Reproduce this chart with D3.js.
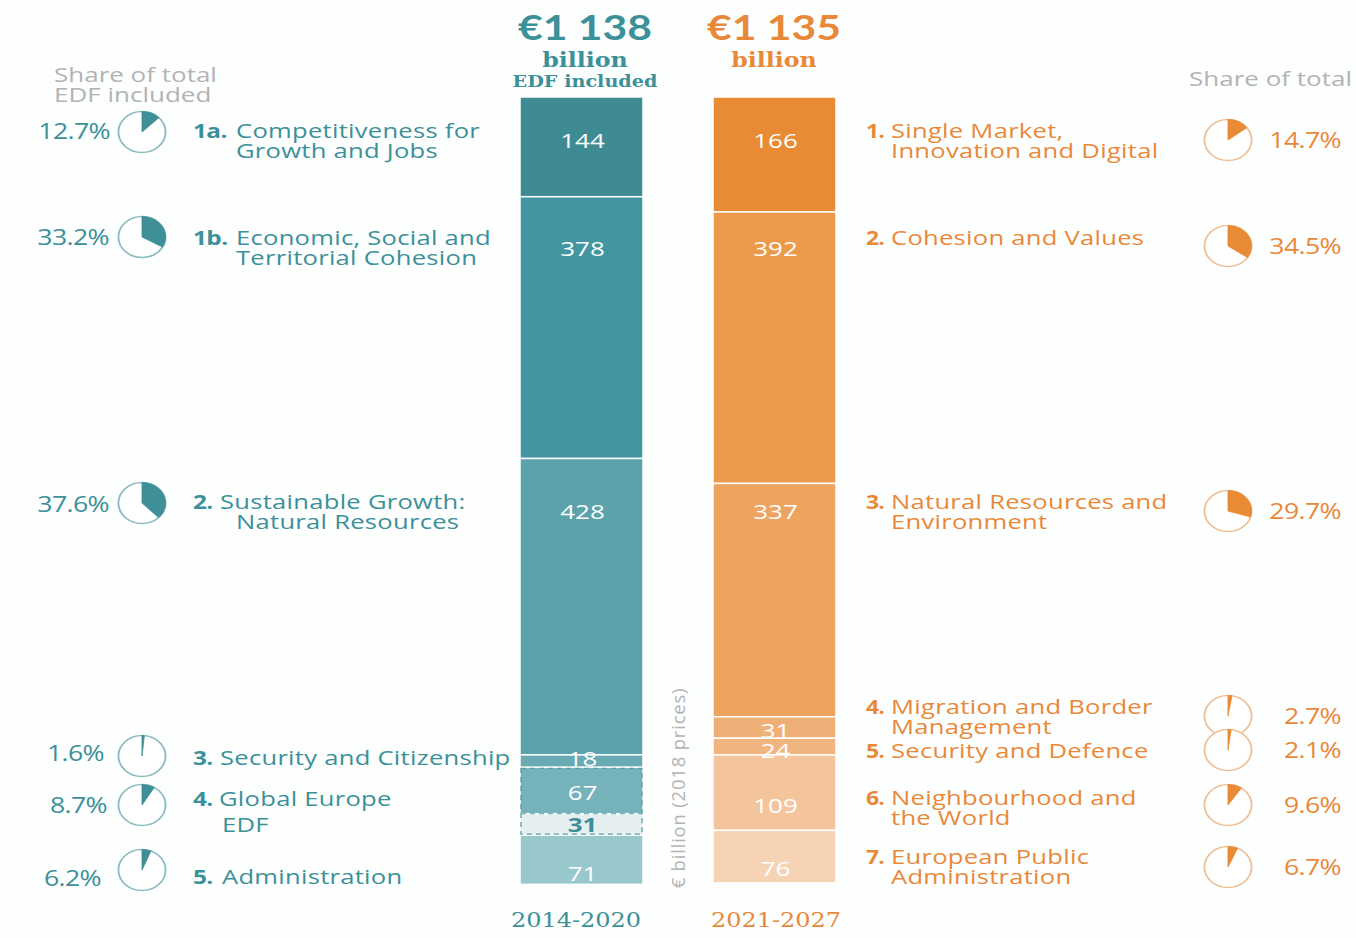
<!DOCTYPE html>
<html><head><meta charset="utf-8">
<script src="https://cdn.jsdelivr.net/npm/d3@7"></script>
<style>
html,body{margin:0;padding:0;background:#fdfefe;}
text{font-family:"Open Sans",sans-serif;}
</style></head>
<body><svg id="c" width="1356" height="938"></svg>
<script>
// ---------- DATA ----------
const leftPeriod = "2014-2020";
const rightPeriod = "2021-2027";
const leftTotal = "€1 138";
const rightTotal = "€1 135";
const leftValues = [144, 378, 428, 18, 67, 31, 71];
const rightValues = [166, 392, 337, 31, 24, 109, 76];
const leftNums = ["1a.", "1b.", "2.", "3.", "4.", "5."];
const leftCats = [["Competitiveness for", "Growth and Jobs"], ["Economic, Social and", "Territorial Cohesion"], ["Sustainable Growth:", "Natural Resources"], ["Security and Citizenship"], ["Global Europe", "EDF"], ["Administration"]];
const leftShares = [12.7, 33.2, 37.6, 1.6, 8.7, 6.2];
const rightNums = ["1.", "2.", "3.", "4.", "5.", "6.", "7."];
const rightCats = [["Single Market,", "Innovation and Digital"], ["Cohesion and Values"], ["Natural Resources and", "Environment"], ["Migration and Border", "Management"], ["Security and Defence"], ["Neighbourhood and", "the World"], ["European Public", "Administration"]];
const rightShares = [14.7, 34.5, 29.7, 2.7, 2.1, 9.6, 6.7];
const axisLabel = "€ billion (2018 prices)";

// ---------- LAYOUT ----------
const leftColors = ["#3e8b94", "#42969f", "#5ba2ab", "#6aaab3", "#76b2ba", "#e6eff0", "#98c7cc"];
const rightColors = ["#e98a35", "#eb9a4b", "#eda460", "#efb077", "#f0b57f", "#f4c49d", "#f6d3b5"];
const teal = "#3c9099", orange = "#e8893a", grey = "#b3b3b3";
const leftValY = [140, 248, 511, 758, 792, 824, 873];
const rightValY = [140, 248, 511, 730, 750, 805, 868];
const leftLabY = [130, 237, 501, 757, 798, 876];
const leftFirstX = [236, 236, 220, 220, 219, 222];
const leftNextX = [236, 236, 236, 236, 222, 236];
const leftNextGap = [20, 20, 20, 20, 26, 20];
const leftPieY = [132, 237, 503, 756, 805, 870];
const leftPctY = [131, 237, 504, 753, 805, 878];
const leftPctX = [110, 109, 109, 104, 107, 101];
const rightLabY = [130, 237, 501, 706, 750, 797, 856];
const rightPieY = [140, 246, 511, 716, 750, 805, 867];
const SX = 1.28; // horizontal stretch of the original artwork's type

const svg = d3.select("#c");
const top0 = 97, pxPerUnit = 0.6925;
const y = d3.scaleLinear().domain([0, 1138]).range([top0, top0 + 1138 * pxPerUnit]);
const bw = 123, lx = 520, rx = 713;

function txt(x, yy, s, o = {}) {
  const t = svg.append("text")
    .attr("transform", `translate(${x},${yy}) scale(${o.sx || SX},1)`)
    .attr("text-anchor", o.anchor || "start")
    .attr("dominant-baseline", o.baseline || "central")
    .attr("font-size", o.size || 20)
    .attr("font-weight", o.weight || 400)
    .attr("fill", o.fill || "#000")
    .text(s);
  if (o.family) t.style("font-family", o.family);
  if (o.ls !== undefined) t.attr("letter-spacing", o.ls);
  return t;
}

function stack(vals) { let c = 0; return vals.map(v => { const s = c; c += v; return [s, c]; }); }

function drawBar(vals, x0, colors, valY, darkIdx) {
  const st = stack(vals);
  svg.append("g").selectAll("rect").data(st).join("rect")
    .attr("x", x0).attr("width", bw)
    .attr("y", d => y(d[0])).attr("height", d => y(d[1]) - y(d[0]))
    .attr("fill", (d, i) => colors[i]).attr("stroke", "#ffffff").attr("stroke-width", 1.5);
  vals.forEach((v, i) => txt(x0 + bw / 2 + 1, valY[i], v, {
    anchor: "middle", size: 20, sx: 1.3,
    weight: i === darkIdx ? 700 : 400, fill: i === darkIdx ? teal : "#ffffff"
  }));
  return st;
}
const lst = drawBar(leftValues, lx, leftColors, leftValY, 5);
drawBar(rightValues, rx, rightColors, rightValY, -1);

// dashed box around Global Europe + EDF
svg.append("rect").attr("x", lx + 1).attr("width", bw - 2)
  .attr("y", y(lst[4][0]) + 1).attr("height", y(lst[5][1]) - y(lst[4][0]) - 2)
  .attr("fill", "none").attr("stroke", "#5a9ea6").attr("stroke-width", 1.3).attr("stroke-dasharray", "5,4");
svg.append("line").attr("x1", lx + 1).attr("x2", lx + bw - 1)
  .attr("y1", y(lst[5][0])).attr("y2", y(lst[5][0]))
  .attr("stroke", "#5a9ea6").attr("stroke-width", 1.2).attr("stroke-dasharray", "5,4");

// headers
const serif = "'DejaVu Serif', serif";
function header(cx, total, color, lines) {
  txt(cx, 40, total, { anchor: "middle", baseline: "auto", size: 35, weight: 700, sx: 1.22, fill: color, family: "Lato, sans-serif" });
  lines.forEach((t, i) => txt(cx, i === 0 ? 67 : 87, t, {
    anchor: "middle", baseline: "auto", size: i === 0 ? 21 : 17, weight: 700, sx: 1.13, fill: color, family: serif
  }));
}
header(585, leftTotal, teal, ["billion", "EDF included"]);
header(774, rightTotal, orange, ["billion"]);

// period labels
txt(576, 927, leftPeriod, { anchor: "middle", baseline: "auto", size: 20, sx: 1.2, fill: teal, family: serif });
txt(776, 927, rightPeriod, { anchor: "middle", baseline: "auto", size: 20, sx: 1.2, fill: orange, family: serif });

// axis label
svg.append("text").attr("transform", "translate(685,788) rotate(-90)").attr("text-anchor", "middle")
  .attr("font-size", 18.5).attr("letter-spacing", 0.8).attr("fill", grey).text(axisLabel);

// share headers
txt(54, 82, "Share of total", { baseline: "auto", size: 20, sx: 1.3, fill: grey });
txt(54, 102, "EDF included", { baseline: "auto", size: 20, sx: 1.3, fill: grey });
txt(1352, 86, "Share of total", { anchor: "end", baseline: "auto", size: 20, sx: 1.3, fill: grey });

// pies
const R = 20.5;
const arc = d3.arc().innerRadius(0).outerRadius(R).startAngle(0);
function pie(cx, cy, share, color, ring) {
  const g = svg.append("g").attr("transform", `translate(${cx},${cy}) scale(1.15,1)`);
  g.append("circle").attr("r", R).attr("fill", "#ffffff").attr("stroke", ring).attr("stroke-width", 1.6);
  g.append("path").attr("d", arc({ endAngle: Math.max(share, 0.8) / 100 * 2 * Math.PI })).attr("fill", color)
    .attr("stroke", color).attr("stroke-width", 0.8);
}
leftShares.forEach((s, i) => {
  pie(142, leftPieY[i], s, "#3f8f98", "#8cbcc1");
  txt(leftPctX[i], leftPctY[i], s.toFixed(1) + "%", { anchor: "end", size: 21, sx: 1.27, ls: -0.5, fill: teal });
});
rightShares.forEach((s, i) => {
  pie(1228, rightPieY[i], s, "#e98a35", "#efbf96");
  txt(1341, rightPieY[i], s.toFixed(1) + "%", { anchor: "end", size: 21, sx: 1.27, ls: -0.5, fill: orange });
});

// category labels
leftNums.forEach((n, i) => {
  txt(193, leftLabY[i], n, { size: 20, weight: 700, sx: 1.22, fill: teal, ls: -0.5 });
  leftCats[i].forEach((t, j) => txt(j === 0 ? leftFirstX[i] : leftNextX[i], leftLabY[i] + j * leftNextGap[i], t,
    { size: 20, sx: SX, ls: 0.2, fill: teal }));
});
rightNums.forEach((n, i) => {
  txt(866, rightLabY[i], n, { size: 20, weight: 700, sx: 1.15, fill: orange, ls: -0.8 });
  rightCats[i].forEach((t, j) => txt(891, rightLabY[i] + j * 20, t, { size: 20, sx: SX, ls: 0.2, fill: orange }));
});
</script></body></html>
